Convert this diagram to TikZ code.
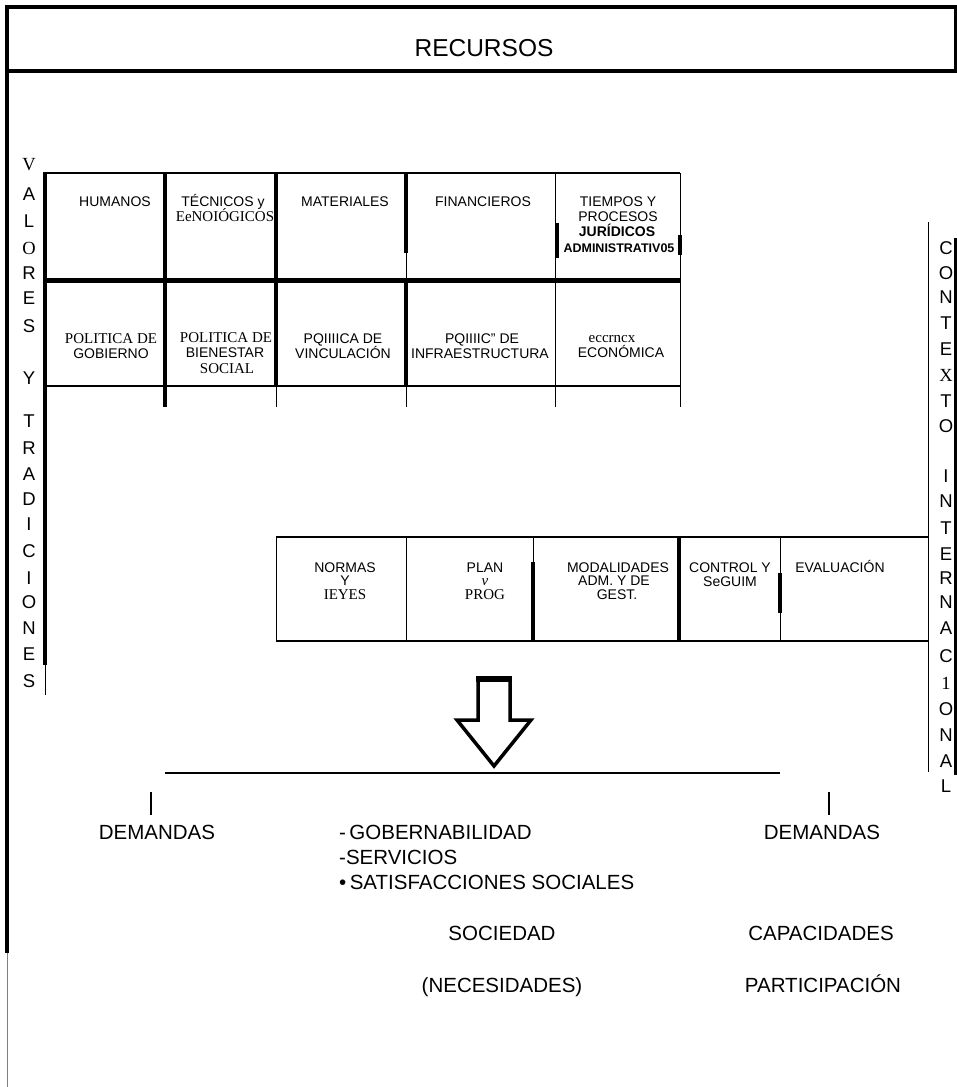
\documentclass[tikz,border=0pt]{standalone}
\usepackage{fontspec}
\setmainfont{Liberation Sans}
\newfontfamily\serif{Liberation Serif}
\begin{document}
\begin{tikzpicture}[x=1pt,y=-1pt,
  heavy/.style={line width=3.2pt},
  thin/.style={line width=1pt},
  cell/.style={font=\fontsize{14}{15}\selectfont, anchor=base, inner sep=0pt},
  serifcell/.style={font=\serif\fontsize{15}{15}\selectfont, anchor=base, inner sep=0pt},
  side/.style={font=\fontsize{18.5}{18.5}\selectfont, anchor=base, inner sep=0pt},
  big/.style={font=\fontsize{20.5}{21}\selectfont, anchor=base, inner sep=0pt},
  bigl/.style={font=\fontsize{20.5}{21}\selectfont, anchor=base west, inner sep=0pt}]
\useasboundingbox (0,0) rectangle (957,1087);

% outer frame
\draw[line width=3.5pt] (5,7) -- (957,7);
\draw[line width=3.5pt] (5,71) -- (957,71);
\draw[line width=3.5pt] (7,5) -- (7,953);
\draw[line width=1pt, gray] (7,953) -- (7,1087);
\draw[line width=3pt] (955,5) -- (955,72);
\node[font=\fontsize{24.5}{25}\selectfont, anchor=base, inner sep=0pt] (recursos) at (484,56) {RECURSOS};

% side columns
\foreach \t/\yy [count=\i] in {{\serif V}/163,A/193,L/220,{\serif O}/247,R/272,E/297,S/325,Y/377,T/420,R/447,A/473,D/498,I/523,C/550,I/577,O/601,N/627,E/653,S/680}
  \node[side] (left\i) at (29,\yy+7) {\t};
\foreach \t/\yy [count=\i] in {C/247,O/272,N/296,T/322,E/348,{\serif X}/374,T/400,O/425,I/475,N/500,T/527,E/553,R/577,N/601,A/627,C/655,{\serif 1}/682,O/708,N/734,A/760,L/785}
  \node[side] (right\i) at (946,\yy+7) {\t};
\draw[thin] (928,222) -- (928,772);
\draw[line width=3pt] (955,238) -- (955,775);

% upper table
\draw[line width=1.8pt] (44,173) -- (680,173);
\draw[line width=5pt] (44,280) -- (680,280);
\draw[line width=1.2pt] (44,386) -- (680,386);
\draw[heavy] (45,172) -- (45,665);
\draw[thin] (45,665) -- (45,695);
\draw[heavy] (165,173) -- (165,407);
\draw[heavy] (276,173) -- (276,386);
\draw[thin] (276,386) -- (276,407);
\draw[heavy] (406,173) -- (406,253);
\draw[thin] (406,253) -- (406,280);
\draw[heavy] (406,280) -- (406,386);
\draw[thin] (406,386) -- (406,407);
\draw[thin] (555,173) -- (555,407);
\draw[heavy] (557,223) -- (557,258);
\draw[thin] (680,173) -- (680,407);
\draw[heavy] (680,235) -- (680,255);

% row 1
\node[cell] (humanos) at (115,206) {HUMANOS};
\node[cell] (tec1) at (223,206) {TÉCNICOS y};
\node[serifcell] (tec2) at (225,221) {EeNOIÓGICOS};
\node[cell] (materiales) at (345,206) {MATERIALES};
\node[cell] (financieros) at (483,206) {FINANCIEROS};
\node[cell] (tiem1) at (618,206) {TIEMPOS Y};
\node[cell] (tiem2) at (618,221) {PROCESOS};
\node[cell, font=\bfseries\fontsize{14}{15}\selectfont] (tiem3) at (617,236) {JURÍDICOS};
\node[cell, font=\bfseries\fontsize{12.5}{15}\selectfont] (tiem4) at (619,252) {ADMINISTRATIV05};

% row 2
\node[serifcell] (pol1a) at (111,343) {POLITICA DE};
\node[cell] (pol1b) at (111,358) {GOBIERNO};
\node[serifcell] (pol2a) at (226,342) {POLITICA DE};
\node[cell] (pol2b) at (225,357) {BIENESTAR};
\node[serifcell] (pol2c) at (227,373) {SOCIAL};
\node[cell] (pol3a) at (343,343) {PQIIIICA DE};
\node[cell] (pol3b) at (343,358) {VINCULACIÓN};
\node[cell] (pol4a) at (482,343) {PQIIIIC" DE};
\node[cell] (pol4b) at (480,358) {INFRAESTRUCTURA};
\node[serifcell] (pol5a) at (612,342) {eccrncx};
\node[cell] (pol5b) at (621,357) {ECONÓMICA};

% lower table
\draw[line width=1.3pt] (276,537) -- (928,537);
\draw[line width=1.3pt] (276,641) -- (928,641);
\draw[thin] (276,537) -- (276,641);
\draw[thin] (406,537) -- (406,641);
\draw[thin] (533,537) -- (533,562);
\draw[heavy] (533,562) -- (533,641);
\draw[heavy] (679,537) -- (679,641);
\draw[thin] (780,537) -- (780,641);
\draw[heavy] (780,573) -- (780,613);

\node[cell] (norm1) at (345,572) {NORMAS};
\node[cell] (norm2) at (345,585) {Y};
\node[serifcell] (norm3) at (345,599) {IEYES};
\node[cell] (plan1) at (485,572) {PLAN};
\node[serifcell, font=\serif\itshape\fontsize{15}{15}\selectfont] (plan2) at (485,585) {v};
\node[serifcell] (plan3) at (485,599) {PROG};
\node[cell] (mod1) at (618,572) {MODALIDADES};
\node[cell] (mod2) at (614,585) {ADM. Y DE};
\node[cell] (mod3) at (617,599) {GEST.};
\node[cell] (ctrl1) at (730,572) {CONTROL Y};
\node[cell] (ctrl2) at (730,586) {SeGUIM};
\node[cell] (eval) at (840,572) {EVALUACIÓN};

% arrow
\coordinate (atl) at (478,679);
\draw[line width=3.5pt, line join=miter]
  (478,679) -- (510,679) -- (510,720) -- (531,720) -- (494,766) -- (457,720) -- (478,720) -- cycle;
\draw[line width=6pt] (476,679) -- (512,679);

% line and ticks
\coordinate (hl) at (165,773);
\coordinate (hr) at (780,773);
\draw[line width=1.3pt] (hl) -- (hr);
\draw[line width=2pt] (151,792) -- (151,815);
\draw[line width=2pt] (829,792) -- (829,815);

% bottom texts
\node[big] (dem1) at (157,839) {DEMANDAS};
\node[big] (dem2) at (822,839) {DEMANDAS};
\node[bigl] (gob) at (339,839) {-\,GOBERNABILIDAD};
\node[bigl] (serv) at (339,864) {-SERVICIOS};
\node[bigl] (sat) at (339,889) {•\,SATISFACCIONES SOCIALES};
\node[big] (soc) at (502,940) {SOCIEDAD};
\node[big] (cap) at (821,940) {CAPACIDADES};
\node[big] (nec) at (502,992) {(NECESIDADES)};
\node[big] (part) at (823,992) {PARTICIPACIÓN};
\end{tikzpicture}
\end{document}
